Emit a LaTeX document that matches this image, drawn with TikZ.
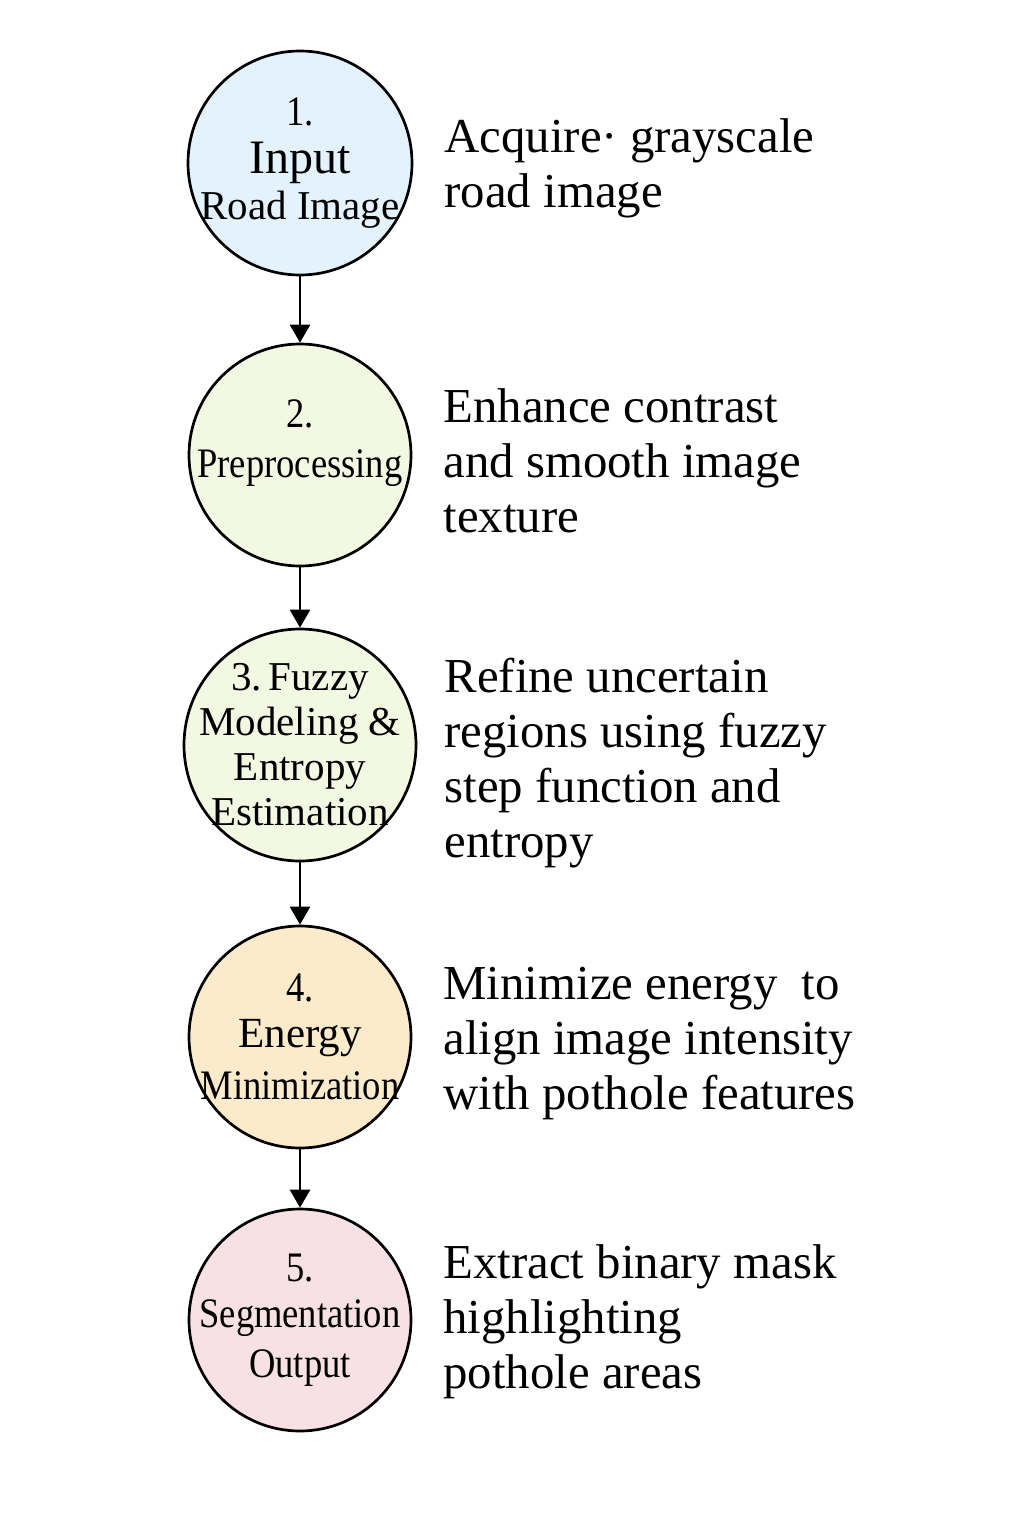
\documentclass[tikz,border=0pt]{standalone}
\usepackage{fontspec}
\setmainfont{Liberation Serif}
\newfontfamily\narrowserif[FakeStretch=0.87]{Liberation Serif}
\usepackage{xcolor}
\usetikzlibrary{positioning,arrows.meta}

\definecolor{stepblue}{HTML}{E4F2FD}
\definecolor{stepgreen}{HTML}{F3F8E2}
\definecolor{steporange}{HTML}{FCEBCB}
\definecolor{steppink}{HTML}{F7E1E4}

\newcommand{\wide}[2]{{\rmfamily\fontsize{#1}{46}\selectfont #2}}

\tikzset{
    stepcircle/.style={circle, draw=black, line width=2.7pt, inner sep=-40pt,
        minimum size=222pt, align=center,
        font=\narrowserif\fontsize{42}{46}\selectfont},
    steptext/.style={anchor=west, inner sep=0pt, align=left,
        font=\fontsize{48.8}{55}\selectfont},
    flow/.style={line width=2.8pt, -{Triangle[width=20pt,length=18pt]}}
}

\begin{document}
\begin{tikzpicture}[x=1pt, y=-1pt]
    \useasboundingbox (0,0) rectangle (1024,1536);

    % steps
    \node[stepcircle, fill=stepblue, minimum size=224pt] (c1) at (300,163)
        {1.\\[2pt]\wide{48}{Input}\\\wide{41}{Road Image}};
    \node[stepcircle, fill=stepgreen] (c2) at (300,455) {2.\\[4pt]Preprocessing\\[-14pt]};
    \node[stepcircle, fill=stepgreen, minimum size=232pt, font=\fontsize{41}{45}\selectfont] (c3) at (300,745)
        {3.\,Fuzzy\\Modeling \&\\Entropy\\Estimation};
    \node[stepcircle, fill=steporange] (c4) at (300,1037) {4.\\\wide{43}{Energy}\\[6pt]Minimization};
    \node[stepcircle, fill=steppink] (c5) at (300,1320) {5.\\Segmentation\\[4pt]Output};

    % descriptions
    \node[steptext, right=31pt of c1, yshift=-5pt] (t1) {Acquire\textperiodcentered{} grayscale\\road image};
    \node[steptext, right=31pt of c2, yshift=-6pt] (t2) {Enhance contrast\\and smooth image\\texture};
    \node[steptext, right=27pt of c3, yshift=-18pt] (t3) {Refine uncertain\\regions using fuzzy\\step function and\\entropy};
    \node[steptext, right=31pt of c4, yshift=-7pt] (t4) {Minimize energy~ to\\align image intensity\\with pothole features};
    \node[steptext, right=31pt of c5, yshift=-2pt] (t5) {Extract binary mask\\highlighting\\pothole areas};

    % arrows
    \draw[flow] (c1) -- (c2);
    \draw[flow] (c2) -- (c3);
    \draw[flow] (c3) -- (c4);
    \draw[flow] (c4) -- (c5);
\end{tikzpicture}
\end{document}
